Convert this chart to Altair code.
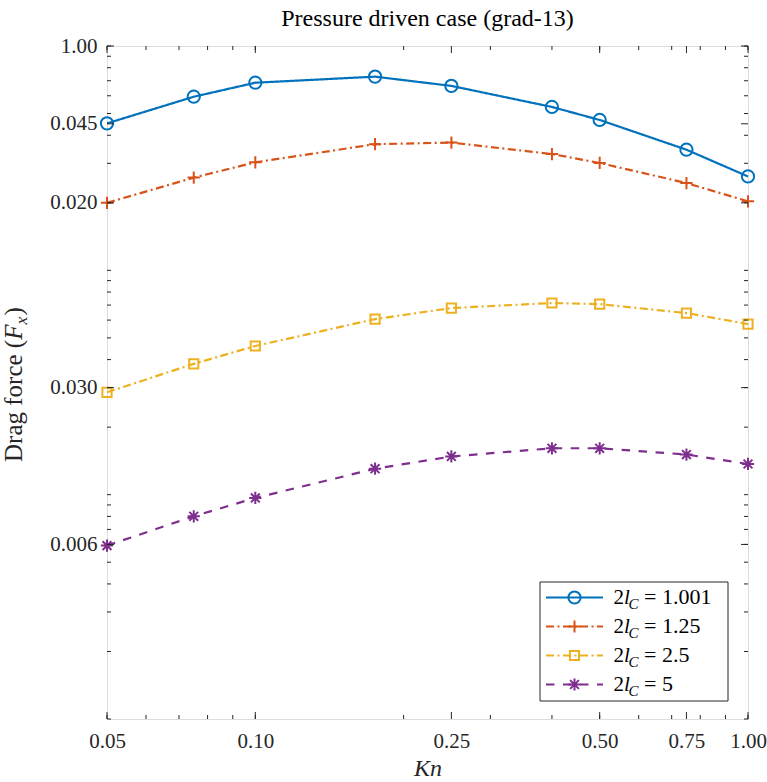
import json

import altair as alt
import pandas as pd

# Knudsen numbers at which the drag force was evaluated
kn = [0.05, 0.075, 0.1, 0.175, 0.25, 0.4, 0.5, 0.75, 1.0]

# Drag force F_x for each domain size 2l_C
fx_1001 = [0.452, 0.594, 0.686, 0.730, 0.664, 0.535, 0.468, 0.345, 0.262]
fx_125 = [0.200, 0.259, 0.303, 0.365, 0.371, 0.330, 0.301, 0.245, 0.203]
fx_25 = [0.0286, 0.0383, 0.0460, 0.0606, 0.0679, 0.0715, 0.0707, 0.0645, 0.0576]
fx_5 = [0.00593, 0.00801, 0.00967, 0.01305, 0.0148, 0.0161, 0.0161, 0.0151, 0.0137]

series_names = ["1.001", "1.25", "2.5", "5"]
series_values = [fx_1001, fx_125, fx_25, fx_5]

# Axis tick labels
x_tick_values = [0.05, 0.1, 0.25, 0.5, 0.75, 1.0]
y_tick_values = [1.0, 0.45, 0.2, 0.03, 0.006]
y_tick_text = ["1.00", "0.045", "0.020", "0.030", "0.006"]

# Styling
SERIF = "Liberation Serif"
INK = "#262626"
colors = ["#0072BD", "#D95319", "#EDB120", "#7E2F8E"]
dashes = [[1, 0], [8, 3.5, 2, 3.5], [8, 3.5, 2, 3.5], [8.5, 8.5]]
PLUS = "M-1,0L1,0M0,-1L0,1"
SQUARE = "M-0.75,-0.75L0.75,-0.75L0.75,0.75L-0.75,0.75Z"
ASTERISK = "M-1,0L1,0M0,-1L0,1M-0.72,-0.72L0.72,0.72M-0.72,0.72L0.72,-0.72"
shapes = ["circle", PLUS, SQUARE, ASTERISK]
LINE_W, MARK_W, MARK_SIZE = 2.2, 2, 150

W, H = 641, 673
MAJOR, MINOR = 7, 4

rows = []
for name, vals in zip(series_names, series_values):
    for k, v in zip(kn, vals):
        rows.append({"Kn": k, "Fx": v, "series": name})
df = pd.DataFrame(rows)

xscale = alt.Scale(type="log", domain=[0.05, 1.0], nice=False)
yscale = alt.Scale(type="log", domain=[0.001, 1.0], nice=False)

color = alt.Color("series:N", scale=alt.Scale(domain=series_names, range=colors), legend=None)
dash = alt.StrokeDash("series:N", scale=alt.Scale(domain=series_names, range=dashes), legend=None)
shape = alt.Shape("series:N", scale=alt.Scale(domain=series_names, range=shapes), legend=None)

label_expr = "{}[indexof({}, datum.value)]".format(json.dumps(y_tick_text), json.dumps(y_tick_values))

xaxis = alt.Axis(
    values=x_tick_values, format=".2f", grid=False, domain=False, ticks=False, tickSize=0,
    labelFlush=False, labelOverlap=False, labelPadding=11,
    labelFont=SERIF, labelFontSize=21, labelColor=INK,
    title="Kn", titleFont=SERIF, titleFontSize=24, titleFontStyle="italic",
    titleFontWeight="normal", titleColor=INK, titleBaseline="alphabetic",
    titleAlign="center", titleX=W / 2, titleY=56,
)
yaxis = alt.Axis(
    values=y_tick_values, labelExpr=label_expr, grid=False, domain=False, ticks=False,
    tickSize=0, labelFlush=False, labelOverlap=False, labelPadding=10,
    labelFont=SERIF, labelFontSize=21, labelColor=INK, title=None,
)


def xenc(field):
    return alt.X(field, scale=xscale, axis=xaxis)


def yenc(field):
    return alt.Y(field, scale=yscale, axis=yaxis)


lines = alt.Chart(df).mark_line(strokeWidth=LINE_W).encode(
    x=xenc("Kn:Q"), y=yenc("Fx:Q"), color=color, strokeDash=dash,
)
points = alt.Chart(df).mark_point(filled=False, size=MARK_SIZE, strokeWidth=MARK_W, opacity=1).encode(
    x=xenc("Kn:Q"), y=yenc("Fx:Q"), color=color, shape=shape,
)

# Inward tick marks on all four sides (log minor ticks plus labelled ticks)
y_minor = [m * 10.0 ** k for k in (-3, -2, -1) for m in range(1, 10)] + [1.0]
x_minor = [m / 100 for m in range(5, 10)] + [m / 10 for m in range(1, 11)]


def y_ticks(values, length, right):
    x0 = W if right else 0
    x1 = W - length if right else length
    return alt.Chart(pd.DataFrame({"Fx": values})).mark_rule(color=INK, strokeWidth=1).encode(
        y=yenc("Fx:Q"), x=alt.value(x0), x2=alt.value(x1)
    )


def x_ticks(values, length, top):
    y0 = 0 if top else H
    y1 = length if top else H - length
    return alt.Chart(pd.DataFrame({"Kn": values})).mark_rule(color=INK, strokeWidth=1).encode(
        x=xenc("Kn:Q"), y=alt.value(y0), y2=alt.value(y1)
    )


ticks = [
    y_ticks(y_minor, MINOR, False), y_ticks(y_minor, MINOR, True),
    y_ticks(y_tick_values, MAJOR, False), y_ticks(y_tick_values, MAJOR, True),
    x_ticks(x_minor, MINOR, False), x_ticks(x_minor, MINOR, True),
    x_ticks(x_tick_values, MAJOR, False), x_ticks(x_tick_values, MAJOR, True),
]

one = pd.DataFrame({"k": [0]})


def piece(text, x, y, size, italic=False, angle=0, align="left", color=INK):
    return alt.Chart(one).mark_text(
        text=text, font=SERIF, fontSize=size, fontStyle="italic" if italic else "normal",
        color=color, align=align, baseline="alphabetic", angle=angle,
    ).encode(x=alt.value(x), y=alt.value(y))


# Chart title
title = piece("Pressure driven case (grad-13)", W / 2, -20, 24, align="center", color="black")

# y-axis title: Drag force (F_x), rotated
YT_X, YT_Y, YT_S = -85, 416, 25
ytitle = [
    piece("Drag force (", YT_X, YT_Y, YT_S, angle=270),
    piece("F", YT_X, YT_Y - 122.2, YT_S, italic=True, angle=270),
    piece("x", YT_X + 5, YT_Y - 137.5, 17.5, italic=True, angle=270),
    piece(")", YT_X, YT_Y - 146.5, YT_S, angle=270),
]

# Legend box with line samples, markers and 2l_C labels
LX0, LX1, LY0, LY1 = 433, 621, 536, 655
ROW0, ROWSTEP = 551.5, 29
leg = pd.DataFrame({"series": series_names, "row": list(range(len(series_names)))})
leg_base = alt.Chart(leg).transform_calculate(
    ly=f"{ROW0} + datum.row * {ROWSTEP}", tb=f"{ROW0} + datum.row * {ROWSTEP} + 6",
    sb=f"{ROW0} + datum.row * {ROWSTEP} + 11.5", txt="'= ' + datum.series",
)
legend_box = alt.Chart(one).mark_rect(fill="white", stroke=INK, strokeWidth=1).encode(
    x=alt.value(LX0), x2=alt.value(LX1), y=alt.value(LY0), y2=alt.value(LY1)
)
legend_lines = leg_base.mark_rule(strokeWidth=LINE_W).encode(
    x=alt.value(439), x2=alt.value(496), y=alt.Y("ly:Q", scale=None), color=color, strokeDash=dash
)
legend_points = leg_base.mark_point(filled=False, size=MARK_SIZE, strokeWidth=MARK_W, opacity=1).encode(
    x=alt.value(467.5), y=alt.Y("ly:Q", scale=None), color=color, shape=shape
)


def leg_text(text, x, size, italic=False, sub=False, field=False):
    mark = dict(font=SERIF, fontSize=size, fontStyle="italic" if italic else "normal",
                color="black", align="left", baseline="alphabetic")
    enc = dict(x=alt.value(x), y=alt.Y("sb:Q" if sub else "tb:Q", scale=None))
    if field:
        enc["text"] = alt.Text("txt:N")
    else:
        mark["text"] = text
    return leg_base.mark_text(**mark).encode(**enc)


legend = [
    legend_box, legend_lines, legend_points,
    leg_text("2", 506.5, 21),
    leg_text("l", 517, 21, italic=True),
    leg_text("C", 521.5, 15, italic=True, sub=True),
    leg_text("", 537, 22, field=True),
]

chart = alt.layer(lines, points, *ticks, title, *ytitle, *legend).properties(
    width=W,
    height=H,
    autosize=alt.AutoSizeParams(type="none"),
    padding={"left": 107, "top": 46, "right": 19, "bottom": 63},
).configure_view(stroke=INK, strokeWidth=1).configure(font=SERIF)

chart.save("out.html", embed_options={"renderer": "svg", "actions": False})
